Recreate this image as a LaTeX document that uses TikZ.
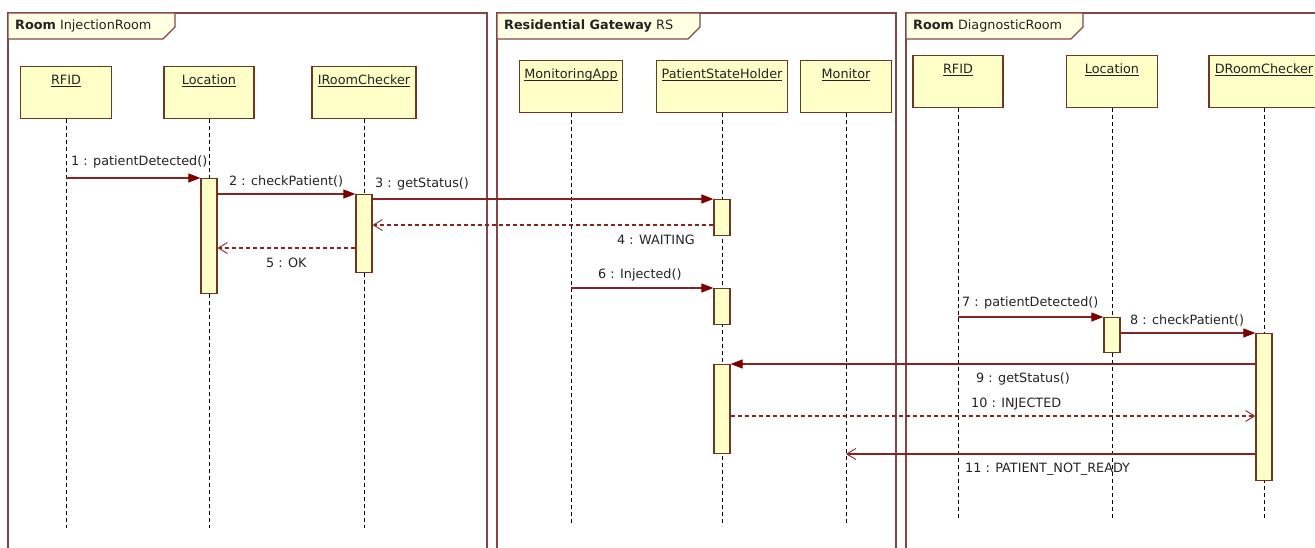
\documentclass[tikz,border=0pt]{standalone}
\usepackage{fontspec}
\setmainfont{DejaVu Sans}
\usetikzlibrary{arrows.meta}
\definecolor{framecol}{RGB}{130,70,70}
\definecolor{boxcol}{RGB}{110,55,35}
\definecolor{boxfill}{RGB}{255,255,200}
\definecolor{tabfill}{RGB}{255,255,228}
\definecolor{msgcol}{RGB}{135,35,35}
\definecolor{headcol}{RGB}{125,0,0}
\definecolor{txtcol}{RGB}{35,35,35}
\newcommand{\ulname}[1]{\underline{\smash{#1}}}

\begin{document}
\begin{tikzpicture}[x=1pt,y=-1pt,font=\fontsize{12.8}{15}\selectfont]
        \tikzstyle{frame}=[draw=framecol, line width=1.2pt]
        \tikzstyle{tab}=[draw=framecol, fill=tabfill, line width=1.2pt]
        \tikzstyle{title}=[anchor=west, inner sep=0pt, text=txtcol]
        \tikzstyle{head}=[rectangle, draw=boxcol, fill=boxfill, line width=1.3pt, anchor=north, text height=9.5pt, text depth=26pt, inner ysep=8.2pt, minimum height=52pt, text=txtcol]
        \tikzstyle{act}=[rectangle, draw=boxcol, fill=boxfill, line width=1.2pt, anchor=north, minimum width=16pt, inner sep=0pt]
        \tikzstyle{lifeline}=[draw=black, line width=0.9pt, dash pattern=on 4pt off 3pt]
        \tikzstyle{msg}=[draw=msgcol, line width=1.1pt, -{Triangle[length=12pt, width=9pt, color=headcol]}]
        \tikzstyle{ret}=[draw=msgcol, line width=1.1pt, dash pattern=on 4pt off 3pt, -{Straight Barb[length=9pt, width=11pt, line width=0.9pt]}]
        \tikzstyle{async}=[draw=msgcol, line width=1.1pt, -{Straight Barb[length=9pt, width=11pt, line width=0.9pt]}]
        \tikzstyle{lbl}=[anchor=west, inner sep=0pt, text=txtcol]

        \clip (0,0) rectangle (1315,548);

        % frames
        \draw[frame] (8,548) -- (8,13) -- (487,13) -- (487,548);
        \draw[tab] (8,13) -- (175,13) -- (175,27) -- (163,39) -- (8,39) -- cycle;
        \node[title] (t1) at (15,26) {\textbf{Room} InjectionRoom};

        \draw[frame] (497,548) -- (497,13) -- (896,13) -- (896,548);
        \draw[tab] (497,13) -- (700,13) -- (700,27) -- (688,39) -- (497,39) -- cycle;
        \node[title] (t2) at (504,26) {\textbf{Residential Gateway} RS};

        \draw[frame] (906,548) -- (906,13) -- (1320,13);
        \draw[tab] (906,13) -- (1083,13) -- (1083,27) -- (1071,39) -- (906,39) -- cycle;
        \node[title] (t3) at (913,26) {\textbf{Room} DiagnosticRoom};

        % lifeline heads
        \node[head, minimum width=91pt] (rfid1) at (66,66) {\ulname{RFID}};
        \node[head, minimum width=90pt] (loc1) at (209,66) {\ulname{Location}};
        \node[head, minimum width=104pt] (irc) at (364,66) {\ulname{IRoomChecker}};

        \node[head, minimum width=103pt] (mapp) at (571,60) {\ulname{MonitoringApp}};
        \node[head, minimum width=131pt] (psh) at (722,60) {\ulname{PatientStateHolder}};
        \node[head, minimum width=91pt] (mon) at (846,60) {\ulname{Monitor}};

        \node[head, minimum width=90pt] (rfid3) at (958,55) {\ulname{RFID}};
        \node[head, minimum width=91pt] (loc3) at (1112,55) {\ulname{Location}};
        \node[head, minimum width=110pt] (drc) at (1264,55) {\ulname{DRoomChecker}};

        \coordinate (e1) at (0,528);
        \coordinate (e2) at (0,523);
        \coordinate (e3) at (0,518);
        \foreach \n/\e in {rfid1/e1, loc1/e1, irc/e1, mapp/e2, psh/e2, mon/e2, rfid3/e3, loc3/e3, drc/e3}
          \draw[lifeline] (\n.south) -- (\n.south |- \e);

        % activations
        \node[act, minimum height=115pt] (locA) at (209,178) {};
        \node[act, minimum height=78pt] (irA) at (364,194) {};
        \node[act, minimum height=36pt] (psA) at (722,199) {};
        \node[act, minimum height=36pt] (psB) at (722,288) {};
        \node[act, minimum height=89pt] (psC) at (722,364) {};
        \node[act, minimum height=35pt] (locC) at (1112,317) {};
        \node[act, minimum height=147pt] (drA) at (1264,333) {};

        % messages
        \coordinate (w4) at (0,225);
        \coordinate (w5) at (0,248);
        \coordinate (w10) at (0,416);
        \coordinate (w11) at (0,454);
        \draw[msg] (rfid1 |- locA.north) -- (locA.north west);
        \draw[msg] (locA.east |- irA.north) -- (irA.north west);
        \draw[msg] (irA.east |- psA.north) -- (psA.north west);
        \draw[ret] (psA.west |- w4) -- (irA.east |- w4);
        \draw[ret] (irA.west |- w5) -- (locA.east |- w5);
        \draw[msg] (mapp |- psB.north) -- (psB.north west);
        \draw[msg] (rfid3 |- locC.north) -- (locC.north west);
        \draw[msg] (locC.east |- drA.north) -- (drA.north west);
        \draw[msg] (drA.west |- psC.north) -- (psC.north east);
        \draw[ret] (psC.east |- w10) -- (drA.west |- w10);
        \draw[async] (drA.west |- w11) -- (mon |- w11);

        % labels
        \node[lbl] (l1) at (71,162) {1 : patientDetected()};
        \node[lbl] (l2) at (229,181) {2 : checkPatient()};
        \node[lbl] (l3) at (375,184) {3 : getStatus()};
        \node[lbl] (l4) at (617,240) {4 : WAITING};
        \node[lbl] (l5) at (266,263) {5 : OK};
        \node[lbl] (l6) at (598,275) {6 : Injected()};
        \node[lbl] (l7) at (962,303) {7 : patientDetected()};
        \node[lbl] (l8) at (1130,320) {8 : checkPatient()};
        \node[lbl] (l9) at (976,379) {9 : getStatus()};
        \node[lbl] (l10) at (971,404) {10 : INJECTED};
        \node[lbl] (l11) at (965,469) {11 : PATIENT\_NOT\_READY};
\end{tikzpicture}
\end{document}
